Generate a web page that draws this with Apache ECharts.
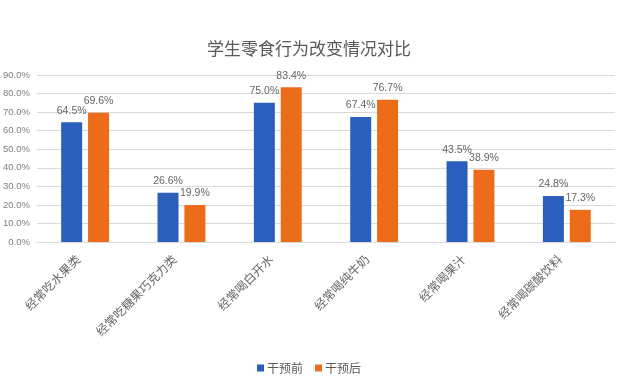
<!DOCTYPE html>
<html><head><meta charset="utf-8">
<script src="https://cdn.jsdelivr.net/npm/echarts@6/dist/echarts.min.js"></script>
<style>html,body{margin:0;padding:0;background:#fff}#c{width:642px;height:388px}</style>
</head><body><div id="c"></div>
<script>
const categories = ['经常吃水果类','经常吃糖果巧克力类','经常喝白开水','经常喝纯牛奶','经常喝果汁','经常喝碳酸饮料'];
const before = [64.5, 26.6, 75.0, 67.4, 43.5, 24.8];
const after = [69.6, 19.9, 83.4, 76.7, 38.9, 17.3];
const seriesNames = ['干预前','干预后'];
const yTicks = {min:0, max:90, interval:10};
const font = '"Noto Sans CJK SC", "Noto Sans", sans-serif';
const numFont = '"Liberation Sans", Arial, sans-serif';
const chart = echarts.init(document.getElementById('c'), null, {renderer:'canvas'});
const lbl = {show:true, position:'top', distance:6, color:'#666666', fontSize:10.5, fontFamily:numFont, formatter: p => p.value.toFixed(1) + '%'};
chart.setOption({
  animation:false,
  backgroundColor:'#fff',
  textStyle:{fontFamily:font},
  title:{text:'学生零食行为改变情况对比', left:202, top:35, textStyle:{color:'#595959', fontSize:17, fontWeight:'normal', fontFamily:font}},
  legend:{data:seriesNames, top:357, left:252, itemWidth:7, itemHeight:7, itemGap:12, icon:'rect', textStyle:{color:'#595959', fontSize:12, fontFamily:font, padding:[0,0,0,-2]}},
  grid:{left:32, right:27, top:75, bottom:146, containLabel:false},
  xAxis:{type:'category', data:categories, axisTick:{show:false}, axisLine:{lineStyle:{color:'#D9D9D9'}},
    axisLabel:{rotate:45, interval:0, color:'#666666', fontSize:12, margin:8, padding:[0,10,0,0], fontFamily:font}},
  yAxis:{type:'value', min:yTicks.min, max:yTicks.max, interval:yTicks.interval, axisLine:{show:false}, axisTick:{show:false},
    axisLabel:{formatter: v => v.toFixed(1) + '%', color:'#7F7F7F', fontSize:9.5, margin:7, fontFamily:numFont},
    splitLine:{lineStyle:{color:'#D9D9D9'}}},
  series:[
    {name:seriesNames[0], type:'bar', data:before, barWidth:21, barGap:'28%', itemStyle:{color:'#2B5EBD'}, label:lbl},
    {name:seriesNames[1], type:'bar', data:after, barWidth:21, itemStyle:{color:'#EC6C19'}, label:lbl}
  ]
});
</script></body></html>
